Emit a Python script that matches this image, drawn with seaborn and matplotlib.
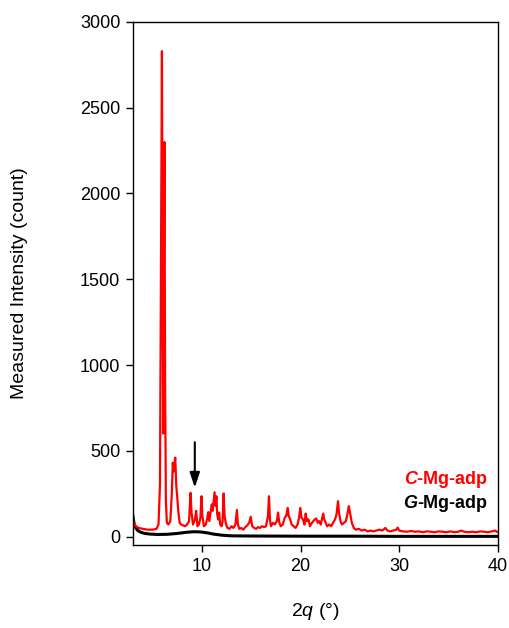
import matplotlib
matplotlib.use("Agg")
import matplotlib.pyplot as plt
import seaborn as sns
import pandas as pd

# ---- data ----
c_two_theta = [3.0, 3.1, 3.3, 3.6, 4.0, 4.5, 5.0, 5.4, 5.6, 5.75, 5.85, 5.95, 6.02, 6.08, 6.15, 6.2,
               6.27, 6.35, 6.45, 6.6, 6.8, 6.95, 7.05, 7.12, 7.2, 7.3, 7.4, 7.5, 7.6, 7.75, 7.9,
               8.1, 8.3, 8.5, 8.7, 8.85, 8.95, 9.1, 9.3, 9.42, 9.55, 9.7, 9.85, 9.96, 10.05, 10.2,
               10.4, 10.55, 10.65, 10.75, 10.9, 11.0, 11.1, 11.2, 11.28, 11.38, 11.47, 11.55, 11.65,
               11.75, 11.85, 12.0, 12.1, 12.2, 12.3, 12.45, 12.6, 12.8, 13.0, 13.2, 13.4, 13.55,
               13.65, 13.8, 14.0, 14.2, 14.4, 14.6, 14.8, 14.95, 15.1, 15.3, 15.5, 15.7, 15.9, 16.1,
               16.3, 16.5, 16.7, 16.8, 16.9, 17.0, 17.2, 17.4, 17.6, 17.72, 17.85, 18.0, 18.2, 18.4,
               18.55, 18.7, 18.8, 18.95, 19.1, 19.3, 19.5, 19.7, 19.85, 19.98, 20.1, 20.25, 20.4,
               20.52, 20.65, 20.8, 20.95, 21.1, 21.3, 21.45, 21.6, 21.75, 21.9, 22.05, 22.2, 22.3,
               22.4, 22.55, 22.7, 22.9, 23.1, 23.3, 23.5, 23.65, 23.8, 23.9, 24.05, 24.2, 24.4,
               24.6, 24.75, 24.9, 25.05, 25.2, 25.4, 25.6, 25.9, 26.2, 26.5, 26.8, 27.1, 27.4,
               27.7, 28.0, 28.3, 28.6, 28.8, 29.1, 29.4, 29.7, 29.85, 30.0, 30.4, 30.8, 31.2, 31.6,
               32.0, 32.4, 32.8, 33.2, 33.6, 34.0, 34.4, 34.8, 35.2, 35.6, 36.0, 36.3, 36.6, 37.0,
               37.4, 37.8, 38.2, 38.6, 39.0, 39.4, 39.7, 40.0]
c_counts = [100, 80, 60, 50, 45, 40, 40, 45, 70, 300, 1500, 2830, 1500, 600, 1600, 2300,
            900, 200, 80, 70, 90, 250, 430, 380, 420, 460, 300, 230, 150, 80, 70,
            65, 60, 70, 90, 255, 140, 70, 100, 150, 60, 70, 110, 235, 120, 60,
            70, 110, 142, 90, 150, 187, 150, 210, 258, 180, 235, 130, 100,
            140, 70, 60, 90, 251, 120, 70, 50, 45, 60, 50, 70, 155,
            70, 45, 50, 40, 55, 65, 80, 115, 60, 50, 45, 55, 50, 60,
            55, 60, 120, 235, 100, 60, 80, 70, 90, 140, 80, 60, 70, 110,
            120, 167, 120, 100, 70, 60, 50, 70, 110, 167, 110, 100, 70,
            134, 90, 100, 60, 75, 90, 100, 105, 80, 90, 70, 110, 134,
            100, 80, 60, 70, 60, 80, 100, 130, 206, 140, 90, 70, 80,
            90, 130, 177, 130, 80, 50, 40, 45, 35, 40, 30, 35, 30,
            35, 40, 35, 50, 35, 30, 35, 40, 52, 35, 30, 28, 32, 28,
            30, 25, 30, 28, 25, 30, 28, 25, 30, 25, 28, 35, 28, 25,
            28, 25, 30, 28, 25, 30, 35, 25]

g_two_theta = [3.0, 3.05, 3.15, 3.3, 3.5, 3.8, 4.2, 4.8, 5.5, 6.5, 7.5, 8.5, 9.2, 9.8, 10.5,
               11.2, 12.0, 13.0, 15.0, 20.0, 25.0, 30.0, 35.0, 40.0]
g_counts = [125, 100, 70, 50, 35, 25, 18, 14, 12, 13, 18, 25, 28, 27, 22,
            14, 8, 4, 3, 2, 2, 1, 1, 1]

y_ticks = [0, 500, 1000, 1500, 2000, 2500, 3000]
x_ticks = [10, 20, 30, 40]
arrow_x = 9.28
arrow_from, arrow_to = 550, 285

# ---- style ----
sns.set_style("white")
plt.rcParams["font.family"] = ["Liberation Sans", "DejaVu Sans"]
plt.rcParams["text.color"] = "black"
plt.rcParams["axes.labelcolor"] = "black"
plt.rcParams["xtick.color"] = "black"
plt.rcParams["ytick.color"] = "black"
plt.rcParams["mathtext.fontset"] = "custom"
plt.rcParams["mathtext.it"] = "Liberation Sans:italic"
plt.rcParams["mathtext.rm"] = "Liberation Sans"
plt.rcParams["mathtext.sf"] = "Liberation Sans:italic:bold"

c_df = pd.DataFrame({"two_theta": c_two_theta, "counts": c_counts})
g_df = pd.DataFrame({"two_theta": g_two_theta, "counts": g_counts})

fig, ax = plt.subplots(figsize=(5.09, 6.28), dpi=100)
fig.subplots_adjust(left=0.261, right=0.978, top=0.965, bottom=0.132)

sns.lineplot(data=g_df, x="two_theta", y="counts", color="black", linewidth=2.2, ax=ax)
sns.lineplot(data=c_df, x="two_theta", y="counts", color="#ff0000", linewidth=1.6, ax=ax)

ax.set_xlim(3, 40)
ax.set_ylim(-50, 3000)
ax.set_xticks(x_ticks)
ax.set_yticks(y_ticks)
ax.tick_params(axis="both", direction="out", length=5, width=1.0, labelsize=13,
               colors="black", bottom=True, left=True, top=False, right=False, pad=4)
for s in ax.spines.values():
    s.set_visible(True)
    s.set_color("black")
    s.set_linewidth(1.0)

ax.set_xlabel(r"2$\mathit{q}$ (°)", fontsize=14, color="black")
ax.set_ylabel("Measured Intensity (count)", fontsize=14, color="black")
ax.xaxis.set_label_coords(0.5, -0.127)
ax.yaxis.set_label_coords(-0.31, 0.5)
ax.xaxis.label.set_va("center")
ax.yaxis.label.set_va("center")

ax.annotate("", xy=(arrow_x, arrow_to), xytext=(arrow_x, arrow_from),
            arrowprops=dict(arrowstyle="-|>,head_length=0.9,head_width=0.3",
                            color="black", lw=1.5, shrinkA=0, shrinkB=0))

ax.text(0.975, 0.126, r"$\mathsf{C}$-Mg-adp", transform=ax.transAxes, ha="right", va="center",
        color="#ff0000", fontsize=13, fontweight="bold")
ax.text(0.975, 0.080, r"$\mathsf{G}$-Mg-adp", transform=ax.transAxes, ha="right", va="center",
        color="black", fontsize=13, fontweight="bold")

fig.savefig("out.png", dpi=100)
